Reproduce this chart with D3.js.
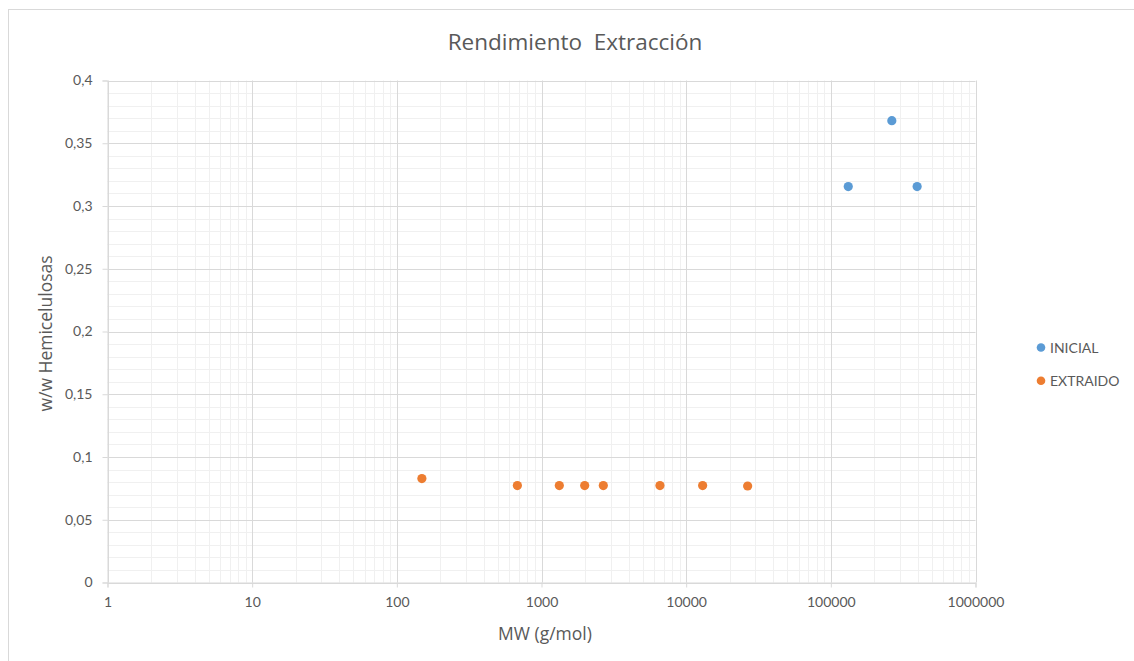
<!DOCTYPE html>
<html><head><meta charset="utf-8">
<script src="https://cdn.jsdelivr.net/npm/d3@7"></script>
<style>body{margin:0;background:#fff}svg{display:block}text{font-family:Lato,"Open Sans",sans-serif;fill:#595959}</style>
</head><body><svg id="c" width="1134" height="661"></svg>
<script>
const title = "Rendimiento  Extracción";
const xTitle = "MW (g/mol)";
const yTitle = "w/w Hemicelulosas";
const seriesNames = ["INICIAL", "EXTRAIDO"];
const seriesColors = ["#5b9bd5", "#ed7d31"];
const inicialX = [132000, 264000, 395000];
const inicialY = [0.3155, 0.368, 0.3155];
const extraidoX = [149, 681, 1328, 1988, 2674, 6590, 13000, 26600];
const extraidoY = [0.0828, 0.0772, 0.0772, 0.0772, 0.0772, 0.0772, 0.0772, 0.0769];
const xTicks = [1, 10, 100, 1000, 10000, 100000, 1000000];
const yTicks = [0, 0.05, 0.1, 0.15, 0.2, 0.25, 0.3, 0.35, 0.4];

const svg = d3.select("#c");
const L = 107.5, R = 975.5, T = 80.5, B = 582.5;
const x = d3.scaleLog().domain([1, 1000000]).range([L, R]);
const y = d3.scaleLinear().domain([0, 0.4]).range([B, T]);

svg.append("rect").attr("x", 8.5).attr("y", 9.5).attr("width", 1140).attr("height", 660)
  .attr("fill", "#fff").attr("stroke", "#d9d9d9");

// minor grid
const minorX = [];
for (let d = 1; d < 1000000; d *= 10) for (let k = 2; k <= 9; k++) minorX.push(d * k);
svg.append("g").selectAll("line").data(minorX).join("line")
  .attr("x1", d => Math.round(x(d)) + 0.5).attr("x2", d => Math.round(x(d)) + 0.5)
  .attr("y1", T).attr("y2", B).attr("stroke", "#f0f0f0");
const minorY = d3.range(0, 41).map(i => i / 100).filter(v => Math.round(v * 100) % 5 !== 0);
svg.append("g").selectAll("line").data(minorY).join("line")
  .attr("x1", L).attr("x2", R)
  .attr("y1", d => Math.round(y(d)) + 0.5).attr("y2", d => Math.round(y(d)) + 0.5).attr("stroke", "#f0f0f0");
// major grid
svg.append("g").selectAll("line").data(xTicks).join("line")
  .attr("x1", d => Math.round(x(d)) + 0.5).attr("x2", d => Math.round(x(d)) + 0.5)
  .attr("y1", T).attr("y2", B).attr("stroke", "#d9d9d9");
svg.append("g").selectAll("line").data(yTicks).join("line")
  .attr("x1", L).attr("x2", R)
  .attr("y1", d => Math.round(y(d)) + 0.5).attr("y2", d => Math.round(y(d)) + 0.5).attr("stroke", "#d9d9d9");

// axes
const fmtY = d => d3.format("~g")(d).replace(".", ",");
const gx = svg.append("g").attr("transform", `translate(0,${B})`)
  .call(d3.axisBottom(x).tickValues(xTicks).tickFormat(d3.format("d")).tickSize(5).tickPadding(10));
const gy = svg.append("g").attr("transform", `translate(${L},0)`)
  .call(d3.axisLeft(y).tickValues(yTicks).tickFormat(fmtY).tickSize(5).tickPadding(10));
[gx, gy].forEach(g => {
  g.select(".domain").attr("stroke", "#d9d9d9");
  g.selectAll(".tick line").attr("stroke", "#d9d9d9");
  g.selectAll(".tick text").attr("font-size", 14).attr("fill", "#595959").attr("font-family", "Lato");
});

// points
const pts = [
  inicialX.map((v, i) => ({x: v, y: inicialY[i], s: 0})),
  extraidoX.map((v, i) => ({x: v, y: extraidoY[i], s: 1}))
].flat();
svg.append("g").selectAll("circle").data(pts).join("circle")
  .attr("cx", d => x(d.x)).attr("cy", d => y(d.y)).attr("r", 4.6)
  .attr("fill", d => seriesColors[d.s]);

// titles
svg.append("text").attr("x", 575).attr("y", 50).attr("text-anchor", "middle")
  .style("white-space", "pre").style("font-family", "'Open Sans'")
  .attr("font-size", 22.5).text(title);
svg.append("text").attr("x", 545).attr("y", 640).attr("text-anchor", "middle")
  .style("font-family", "'Open Sans'").attr("font-size", 17.5).text(xTitle);
svg.append("text").attr("transform", "translate(52,333.5) rotate(-90)").attr("text-anchor", "middle")
  .style("font-family", "'Open Sans'").attr("font-size", 17.5).text(yTitle);

// legend
const lg = svg.append("g").selectAll("g").data(seriesNames).join("g")
  .attr("transform", (d, i) => `translate(1041,${347.5 + i * 33.3})`);
lg.append("circle").attr("r", 4.3).attr("fill", (d, i) => seriesColors[i]);
lg.append("text").attr("x", 9).attr("y", 5).attr("font-size", 14).text(d => d);
</script></body></html>
